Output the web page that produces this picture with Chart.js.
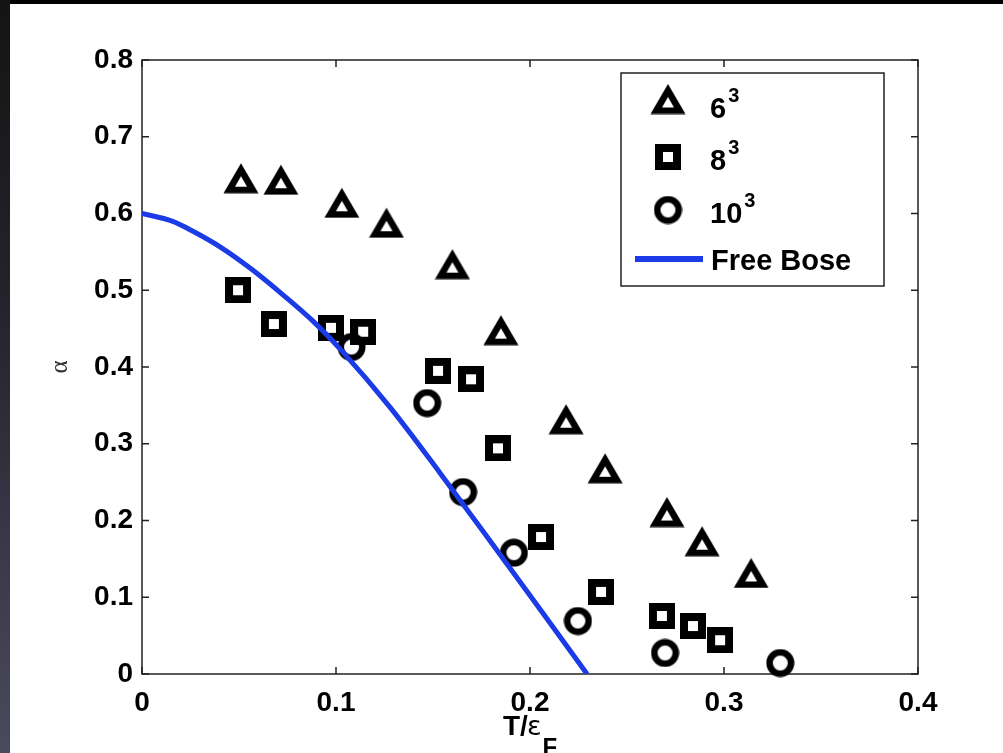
<!DOCTYPE html>
<html>
<head>
<meta charset="utf-8">
<title>Condensate fraction</title>
<script src="https://cdn.jsdelivr.net/npm/chart.js@4.4.1/dist/chart.umd.min.js"></script>
<style>
  html, body { margin: 0; padding: 0; background: #000; }
  #strip {
    position: absolute; left: 0; top: 0; width: 10px; height: 753px;
    background: linear-gradient(to bottom, #141414 0%, #23232b 40%, #3a3a4a 75%, #4a4a5e 100%);
  }
  #wrap {
    position: absolute; left: 10px; top: 4px; width: 993px; height: 749px;
    background: #fff;
  }
</style>
</head>
<body>
<div id="strip"></div>
<div id="wrap"><canvas id="alpha-chart"></canvas></div>
<script>
// lattice 6^3
const t6 = [0.051, 0.0716, 0.103, 0.126, 0.160, 0.185, 0.2186, 0.2387, 0.2706, 0.2887, 0.314];
const a6 = [0.646, 0.644, 0.614, 0.588, 0.534, 0.448, 0.332, 0.268, 0.211, 0.173, 0.1316];
// lattice 8^3
const t8 = [0.0495, 0.068, 0.0974, 0.114, 0.1526, 0.1696, 0.1835, 0.2057, 0.2366, 0.268, 0.284, 0.298];
const a8 = [0.500, 0.456, 0.451, 0.446, 0.395, 0.384, 0.294, 0.1785, 0.107, 0.0756, 0.0625, 0.044];
// lattice 10^3
const t10 = [0.108, 0.147, 0.1655, 0.1917, 0.2247, 0.2696, 0.329];
const a10 = [0.426, 0.353, 0.237, 0.158, 0.069, 0.0274, 0.0143];
// free Bose gas curve
const boseT = [0, 0.0155, 0.0258, 0.0412, 0.0567, 0.0722, 0.0876, 0.103, 0.128, 0.1536, 0.179, 0.205, 0.2294];
const boseAlpha = [0.600, 0.590, 0.5775, 0.555, 0.527, 0.495, 0.461, 0.421, 0.347, 0.262, 0.175, 0.085, 0];

const xTicks = [0, 0.1, 0.2, 0.3, 0.4];
const yTicks = [0, 0.1, 0.2, 0.3, 0.4, 0.5, 0.6, 0.7, 0.8];
const seriesNames = ["6", "8", "10"];

const SANS = '"Liberation Sans", Arial, Helvetica, sans-serif';
const SERIF = '"Liberation Serif", "DejaVu Serif", serif';
const BLUE = "#1a3be6";

// marker sprites (thick outlined shapes)
function triangleMarker() {
  const c = document.createElement("canvas");
  c.width = 36; c.height = 31;
  const g = c.getContext("2d");
  g.fillStyle = "#000";
  g.beginPath();
  g.moveTo(18, 0.5); g.lineTo(35.5, 30.5); g.lineTo(0.5, 30.5); g.closePath();
  g.moveTo(18, 13.5); g.lineTo(24, 24); g.lineTo(12, 24); g.closePath();
  g.fill("evenodd");
  return c;
}
function squareMarker() {
  const c = document.createElement("canvas");
  c.width = 26; c.height = 26;
  const g = c.getContext("2d");
  g.fillStyle = "#000";
  g.fillRect(0, 0, 26, 26);
  g.clearRect(8, 8, 10, 10);
  return c;
}
function circleMarker() {
  const c = document.createElement("canvas");
  c.width = 29; c.height = 29;
  const g = c.getContext("2d");
  g.fillStyle = "#000";
  g.beginPath();
  g.arc(14.5, 14.5, 14, 0, Math.PI * 2);
  g.arc(14.5, 14.5, 7.5, 0, Math.PI * 2);
  g.fill("evenodd");
  return c;
}
const markers = [triangleMarker(), squareMarker(), circleMarker()];

const toPoints = (xs, ys) => xs.map((x, i) => ({ x: x, y: ys[i] }));
const fmt = (v) => String(+v.toFixed(1));

// box frame with inward ticks on all four sides
const framePlugin = {
  id: "frame",
  beforeDatasetsDraw(chart) {
    const { ctx, chartArea: a, scales } = chart;
    const len = 7;
    ctx.save();
    ctx.strokeStyle = "#222";
    ctx.lineWidth = 1.5;
    ctx.strokeRect(a.left, a.top, a.width, a.height);
    ctx.beginPath();
    scales.x.ticks.forEach((t) => {
      const px = scales.x.getPixelForValue(t.value);
      ctx.moveTo(px, a.bottom); ctx.lineTo(px, a.bottom - len);
      ctx.moveTo(px, a.top); ctx.lineTo(px, a.top + len);
    });
    scales.y.ticks.forEach((t) => {
      const py = scales.y.getPixelForValue(t.value);
      ctx.moveTo(a.left, py); ctx.lineTo(a.left + len, py);
      ctx.moveTo(a.right, py); ctx.lineTo(a.right - len, py);
    });
    ctx.stroke();
    ctx.restore();
  },
};

// x title with subscript F, and the legend box
const textPlugin = {
  id: "texts",
  afterDraw(chart) {
    const { ctx, chartArea: a } = chart;
    ctx.save();
    ctx.fillStyle = "#000";
    ctx.textBaseline = "alphabetic";
    ctx.textAlign = "left";

    // T/ε_F
    let x = (a.left + a.right) / 2 - 27;
    const base = a.bottom + 61;
    ctx.font = "bold 28px " + SANS;
    ctx.fillText("T/", x, base);
    x += ctx.measureText("T/").width - 1;
    ctx.font = '27px "DejaVu Sans", sans-serif';
    ctx.fillText("ε", x, base);
    x += ctx.measureText("ε").width + 1;
    ctx.font = "bold 24px " + SANS;
    ctx.fillText("F", x, base + 20);

    // legend
    const bw = 263, bh = 213;
    const bx = a.right - 34 - bw, by = a.top + 13;
    ctx.fillStyle = "#fff";
    ctx.fillRect(bx, by, bw, bh);
    ctx.strokeStyle = "#222";
    ctx.lineWidth = 1.5;
    ctx.strokeRect(bx, by, bw, bh);

    const markY = [26, 84, 137];
    const textBase = [45, 97, 150];
    markers.forEach((m, i) => {
      ctx.drawImage(m, bx + 47 - m.width / 2, by + markY[i] - m.height / 2);
      ctx.fillStyle = "#000";
      ctx.font = "bold 29px " + SANS;
      const tx = bx + 89;
      ctx.fillText(seriesNames[i], tx, by + textBase[i]);
      const w = ctx.measureText(seriesNames[i]).width;
      ctx.font = "bold 20px " + SANS;
      ctx.fillText("3", tx + w + 2, by + textBase[i] - 16);
    });
    ctx.strokeStyle = BLUE;
    ctx.lineWidth = 6;
    ctx.beginPath();
    ctx.moveTo(bx + 14, by + 186);
    ctx.lineTo(bx + 82, by + 186);
    ctx.stroke();
    ctx.fillStyle = "#000";
    ctx.font = "bold 29px " + SANS;
    ctx.fillText("Free Bose", bx + 90, by + 197);
    ctx.restore();
  },
};

new Chart(document.getElementById("alpha-chart"), {
  type: "scatter",
  data: {
    datasets: [
      {
        label: "Free Bose",
        data: toPoints(boseT, boseAlpha),
        showLine: true,
        borderColor: BLUE,
        borderWidth: 5,
        pointRadius: 0,
        cubicInterpolationMode: "monotone",
        clip: 0,
        order: 0,
      },
      {
        label: "6^3",
        data: toPoints(t6, a6),
        pointStyle: markers[0],
        pointRadius: 15,
        clip: false,
        order: 1,
      },
      {
        label: "8^3",
        data: toPoints(t8, a8),
        pointStyle: markers[1],
        pointRadius: 13,
        clip: false,
        order: 1,
      },
      {
        label: "10^3",
        data: toPoints(t10, a10),
        pointStyle: markers[2],
        pointRadius: 14,
        clip: false,
        order: 1,
      },
    ],
  },
  options: {
    responsive: true,
    maintainAspectRatio: false,
    animation: false,
    events: [],
    layout: { padding: { left: 0, top: 56, right: 85, bottom: 0 } },
    plugins: { legend: { display: false }, tooltip: { enabled: false } },
    scales: {
      x: {
        type: "linear",
        min: 0,
        max: 0.4,
        afterBuildTicks: (s) => { s.ticks = xTicks.map((v) => ({ value: v })); },
        afterFit: (s) => { s.height = 79; },
        grid: { display: false, drawTicks: false },
        border: { display: false },
        ticks: {
          color: "#000",
          padding: 12,
          maxRotation: 0,
          font: { family: SANS, size: 28, weight: "bold" },
          callback: (v) => fmt(v),
        },
      },
      y: {
        type: "linear",
        min: 0,
        max: 0.8,
        afterBuildTicks: (s) => { s.ticks = yTicks.map((v) => ({ value: v })); },
        afterFit: (s) => { s.width = 132; },
        grid: { display: false, drawTicks: false },
        border: { display: false },
        ticks: {
          color: "#000",
          padding: 9,
          font: { family: SANS, size: 28, weight: "bold" },
          callback: (v) => fmt(v),
        },
        title: {
          display: true,
          text: "α",
          color: "#333",
          font: { family: SERIF, size: 25 },
          padding: { top: 35, bottom: 0 },
        },
      },
    },
  },
  plugins: [framePlugin, textPlugin],
});
</script>
</body>
</html>
